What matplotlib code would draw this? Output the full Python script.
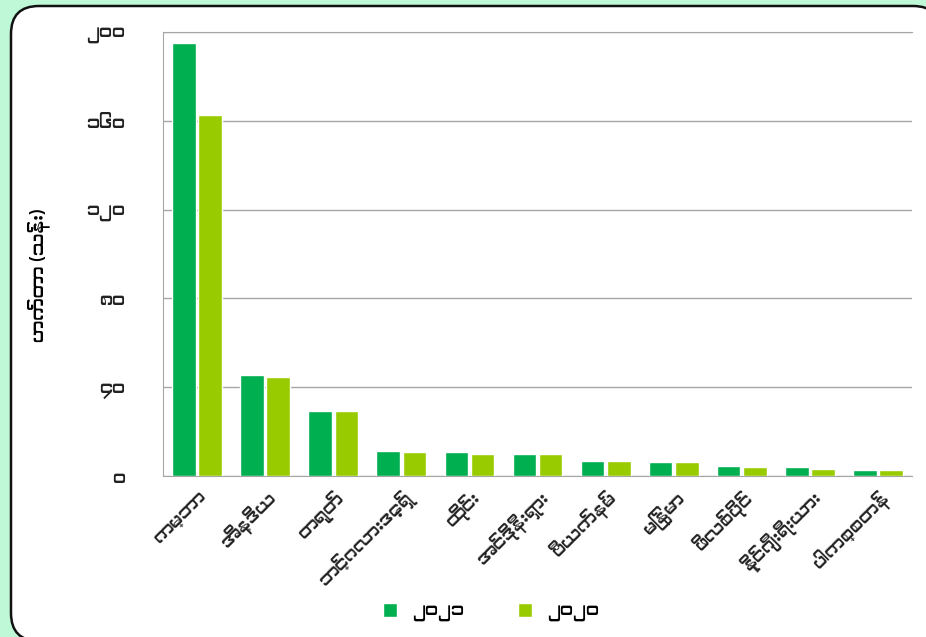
import matplotlib
matplotlib.use("Agg")
import matplotlib.pyplot as plt
from matplotlib import font_manager
from matplotlib.patches import FancyBboxPatch
from matplotlib.transforms import IdentityTransform
import numpy as np

# ===============================================
# Data
# ===============================================

countries = ["ကမ္ဘာ", "အိန္ဒိယ", "တရုတ်", "ဘင်္ဂလားဒေ့ရှ်", "ထိုင်း", "အင်ဒိုနီးရှား",
             "ဗီယက်နမ်", "မြန်မာ", "ဖိလစ်ပိုင်", "နိုင်ဂျီးရီးယား", "ပါကစ္စတန်"]
area_2021 = [195.0, 45.5, 29.4, 11.3, 10.7, 10.1, 6.8, 6.2, 4.5, 3.9, 2.8]
area_2020 = [162.7, 44.5, 29.4, 10.7, 10.1, 10.1, 6.8, 6.2, 3.9, 3.3, 2.8]
series_labels = ["၂၀၂၁", "၂၀၂၀"]
y_ticks = [0, 40, 80, 120, 160, 200]
y_tick_labels = ["၀", "၄၀", "၈၀", "၁၂၀", "၁၆၀", "၂၀၀"]
y_label = "ဟက်တာ (သန်း)"

# ===============================================
# Font with Myanmar glyphs, if any is installed
# ===============================================

myanmar = []
for f in font_manager.fontManager.ttflist:
    low = (f.name + " " + f.fname).lower()
    if ("myanmar" in low or "padauk" in low or "pyidaungsu" in low) and f.name not in myanmar:
        myanmar.append(f.name)
plt.rcParams["font.family"] = myanmar + ["DejaVu Sans"]

dark = "#00AF50"
light = "#99CC00"
grid = "#A6A6A6"

fig = plt.figure(figsize=(9.26, 6.37), dpi=100, facecolor="#BFF8D7")

# white rounded panel behind the chart
panel = FancyBboxPatch((11, -4), 930, 631 + 4,
                       boxstyle="round,pad=0,rounding_size=28",
                       transform=IdentityTransform(),
                       facecolor="white", edgecolor="#111111", linewidth=1.8,
                       zorder=-10)
fig.patches.append(panel)

ax = fig.add_axes([0.176, 0.2527, 0.809, 0.697])
ax.set_facecolor("white")

x = np.arange(len(countries))
w = 0.345
ax.bar(x - w / 2 - 0.02, area_2021, w, color=dark, edgecolor="white",
       linewidth=1, label=series_labels[0], zorder=3)
ax.bar(x + w / 2 + 0.02, area_2020, w, color=light, edgecolor="white",
       linewidth=1, label=series_labels[1], zorder=3)

ax.set_xlim(-0.5, len(countries) - 0.5)
ax.set_ylim(0, 200)
ax.set_yticks(y_ticks)
ax.set_yticklabels(y_tick_labels, fontsize=13, color="#222222")
ax.yaxis.grid(True, color=grid, linewidth=1, zorder=0)
ax.tick_params(axis="y", length=0, pad=27)
ax.set_ylabel(y_label, fontsize=13)
ax.yaxis.set_label_coords(-0.151, 0.453)

ax.set_xticks(x)
ax.set_xticklabels(countries, rotation=45, ha="right", rotation_mode="anchor",
                   fontsize=13, color="#222222")
ax.tick_params(axis="x", length=0, pad=8)

for s in ["left", "bottom", "top"]:
    ax.spines[s].set_color(grid)
ax.spines["right"].set_visible(False)

fig.legend(loc="center", bbox_to_anchor=(0.53, 0.039), ncol=2, frameon=False,
           fontsize=13, handlelength=0.8, handleheight=0.8, columnspacing=3)

plt.savefig("out.png", dpi=100, facecolor=fig.get_facecolor())
plt.close()
print("fonts:", myanmar)
